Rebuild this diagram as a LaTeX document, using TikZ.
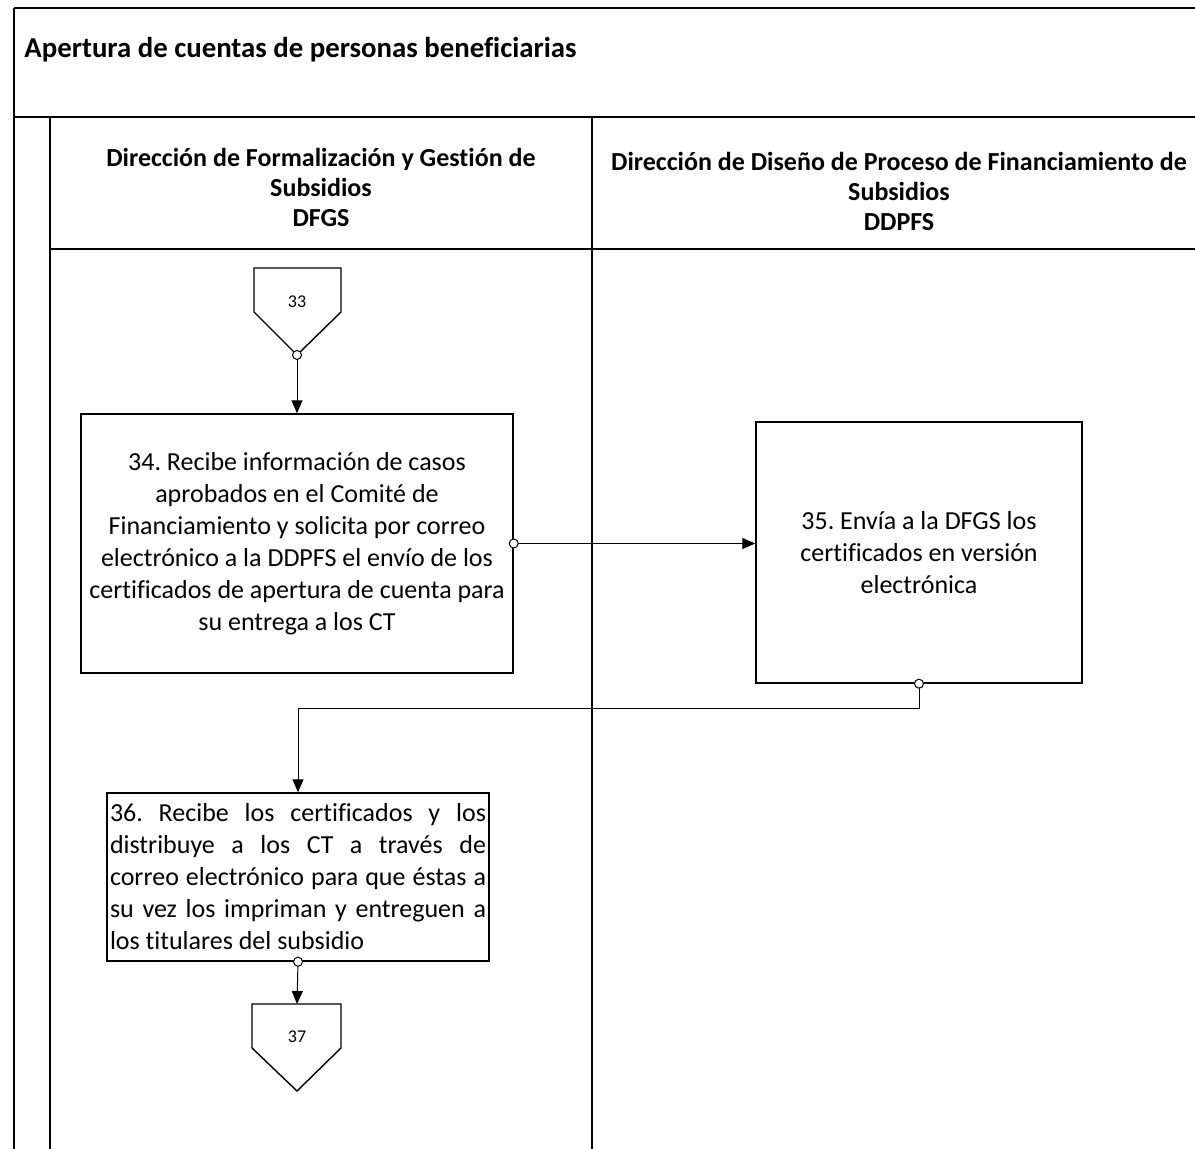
\documentclass[tikz,border=0pt]{standalone}
\usepackage{fontspec}
\setmainfont{Carlito}[Ligatures=NoCommon]
\usetikzlibrary{arrows.meta,positioning}
\frenchspacing

\begin{document}
\begin{tikzpicture}[x=0.5pt,y=-0.5pt,>={Triangle[length=6.5pt,width=5.5pt]},
  font=\fontsize{13}{16}\selectfont]
  \tikzstyle{lane}=[line width=0.9pt]
  \tikzstyle{task}=[draw, line width=0.7pt, inner sep=1.5pt, align=center]
  \tikzstyle{flow}=[{Circle[length=5pt,fill=white]}->, shorten <=-2.5pt, line width=0.5pt]
  \tikzstyle{head}=[align=center, font=\fontsize{13}{15}\bfseries]

  \useasboundingbox (0,0) rectangle (1195,1149);
  \clip (0,0) rectangle (1195,1149);

  % frame and lanes
  \draw[lane] (14,8) -- (1210,8);
  \draw[lane] (14,8) -- (14,1160);
  \draw[lane] (14,117) -- (1210,117);
  \draw[lane] (50,117) -- (50,1160);
  \draw[lane] (50,249) -- (1210,249);
  \draw[lane] (592,117) -- (592,1160);

  \node[anchor=base west, inner sep=0pt, font=\fontsize{14.4}{17}\bfseries] (title) at (24,58)
    {Apertura de cuentas de personas beneficiarias};
  \node[head] (dfgs) at (321,187)
    {Dirección de Formalización y Gestión de\\Subsidios\\DFGS};
  \node[head] (ddpfs) at (899,191)
    {Dirección de Diseño de Proceso de Financiamiento de\\Subsidios\\DDPFS};

  % off-page connectors
  \draw[line width=0.7pt] (254,268) -- (341,268) -- (341,312) -- (297,355) coordinate (c33tip)
    -- (254,312) -- cycle;
  \node[font=\fontsize{9}{11}\selectfont] (c33) at (297,302) {33};
  \draw[line width=0.7pt] (252,1004) -- (341,1004) -- (341,1048) -- (297,1091)
    -- (252,1048) -- cycle;
  \coordinate (c37top) at (297,1004);
  \node[font=\fontsize{9}{11}\selectfont] (c37) at (297,1037) {37};

  % tasks
  \node[task, minimum width=216pt, minimum height=129.5pt] (b34) at (297,543.5)
    {34. Recibe información de casos\\aprobados en el Comité de\\Financiamiento y solicita por correo\\electrónico a la DDPFS el envío de los\\certificados de apertura de cuenta para\\su entrega a los CT};
  \node[task, minimum width=163pt, minimum height=130.5pt] (b35) at (919,552.5)
    {35. Envía a la DFGS los\\certificados en versión\\electrónica};
  \node[task, minimum width=191pt, minimum height=84pt, text width=188pt, align=justify] (b36) at (298,877)
    {\hyphenpenalty=10000\relax 36. Recibe los certificados y los\linebreak distribuye a los CT a través de\linebreak correo electrónico para que éstas a\linebreak su vez los impriman y entreguen a\linebreak los titulares del subsidio};

  \draw[flow] (c33tip) -- (b34.north);
  \draw[flow] (b34.east) -- (b34.east -| b35.west);
  \draw[flow] (b35.south) -- ++(0,25) -| (b36.north);
  \draw[flow] (b36.south) -- (c37top);
\end{tikzpicture}
\end{document}
